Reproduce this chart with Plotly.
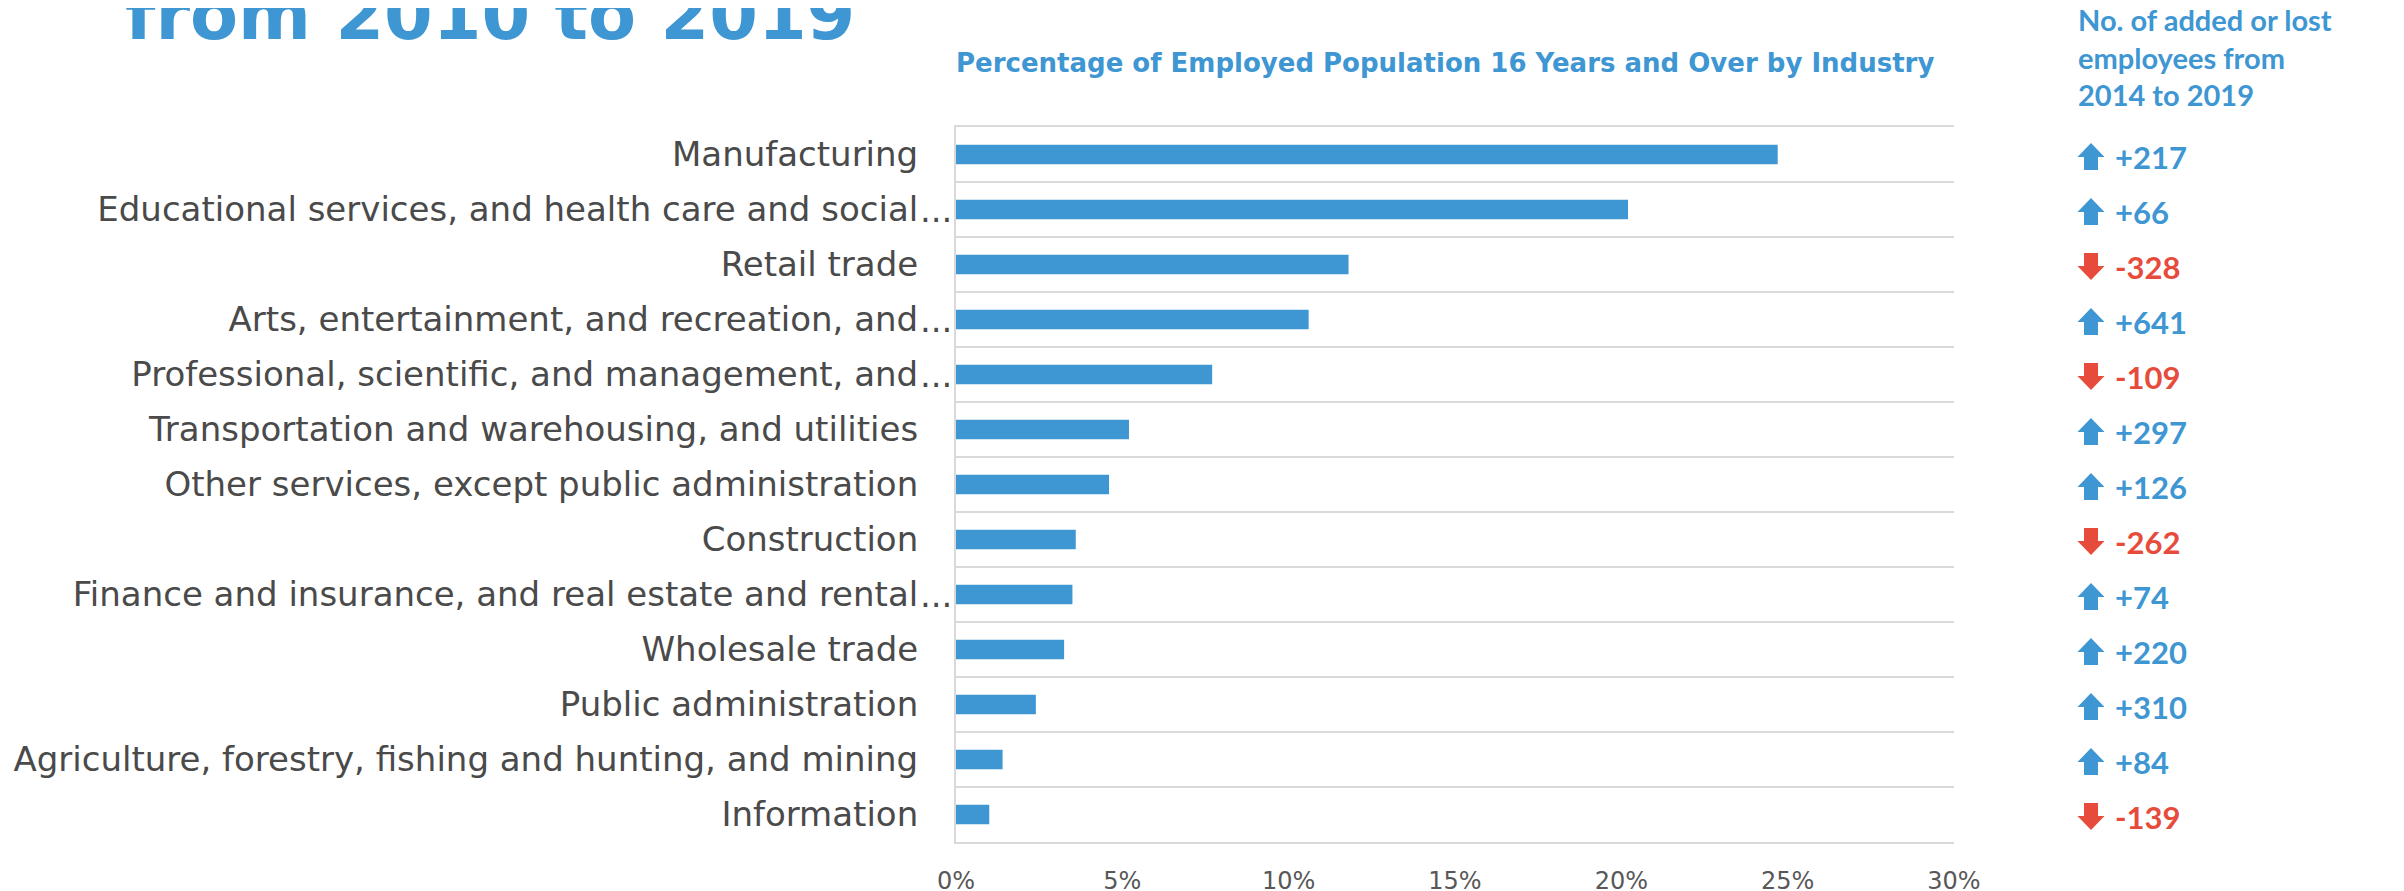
import plotly.graph_objects as go

categories = [
    "Manufacturing",
    "Educational services, and health care and social...",
    "Retail trade",
    "Arts, entertainment, and recreation, and...",
    "Professional, scientific, and management, and...",
    "Transportation and warehousing, and utilities",
    "Other services, except public administration",
    "Construction",
    "Finance and insurance, and real estate and rental...",
    "Wholesale trade",
    "Public administration",
    "Agriculture, forestry, fishing and hunting, and mining",
    "Information",
]
pct_employed = [24.7, 20.2, 11.8, 10.6, 7.7, 5.2, 4.6, 3.6, 3.5, 3.25, 2.4, 1.4, 1.0]
change_2014_2019 = [217, 66, -328, 641, -109, 297, 126, -262, 74, 220, 310, 84, -139]
x_ticks = [0, 5, 10, 15, 20, 25, 30]

title_text = "from 2010 to 2019"
subtitle_text = "Percentage of Employed Population 16 Years and Over by Industry"
side_header = "No. of added or lost<br>employees from<br>2014 to 2019"

BLUE = "#3E96D2"
RED = "#E64B3C"
GRAY_TXT = "#4A4A4A"
TICK_TXT = "#585858"
GRID = "#D9D9D9"
FONT = "DejaVu Sans"

W, H = 2404, 891
# the page body adds an 8px offset; margins compensate for it
ML, MR, MT, MB = 948, 458, 119, 57

fig = go.Figure()
fig.add_trace(go.Bar(
    x=pct_employed, y=categories, orientation="h",
    marker=dict(color=BLUE, line=dict(width=0)),
    hoverinfo="x+y", showlegend=False,
))

stems = [c[:-3] if c.endswith("...") else c for c in categories]

fig.update_layout(
    template="none",
    width=W, height=H, autosize=False,
    margin=dict(l=ML, r=MR, t=MT, b=MB, pad=0),
    paper_bgcolor="white", plot_bgcolor="white",
    bargap=0.645, showlegend=False,
    font=dict(family=FONT),
    xaxis=dict(
        range=[0, 30], tickvals=x_ticks, ticktext=[f"{v}%" for v in x_ticks],
        showgrid=False, zeroline=False, automargin=False,
        showline=True, linecolor=GRID, linewidth=2, mirror=True,
        ticks="", tickfont=dict(family=FONT, size=24, color=TICK_TXT),
        ticklabelstandoff=16, fixedrange=True,
    ),
    yaxis=dict(
        type="category", autorange="reversed", automargin=False,
        tickvals=categories, ticktext=stems,
        tickson="boundaries", showgrid=True, gridcolor=GRID, gridwidth=2,
        showline=True, linecolor=GRID, linewidth=2,
        ticks="", tickfont=dict(family=FONT, size=34, color=GRAY_TXT),
        ticklabelstandoff=29, zeroline=False, fixedrange=True,
    ),
)

annotations = []
for c in categories:
    if c.endswith("..."):
        annotations.append(dict(
            x=0, xref="paper", y=c, yref="y", text="...", showarrow=False,
            xanchor="left", yanchor="middle", xshift=-38,
            font=dict(family=FONT, size=34, color=GRAY_TXT),
        ))

# change column: block arrows (pixel-sized shapes) + values
AX = 137      # arrow centre, px right of plot area
HW, SW, HH, SH = 13.5, 7, 14, 13   # head half-width, stem half-width, head height, stem height
shapes = []
for i, (c, v) in enumerate(zip(categories, change_2014_2019)):
    up = v >= 0
    col = BLUE if up else RED
    s = 1 if up else -1
    cy = -2
    pts = [
        (AX - HW, cy),
        (AX, cy + s * HH),
        (AX + HW, cy),
        (AX + SW, cy),
        (AX + SW, cy - s * SH),
        (AX - SW, cy - s * SH),
        (AX - SW, cy),
    ]
    off = (HH - SH) / 2.0 * s
    path = "M " + " L ".join(f"{px},{py - off}" for px, py in pts) + " Z"
    shapes.append(dict(
        type="path", xref="paper", yref="y",
        xsizemode="pixel", ysizemode="pixel", xanchor=1, yanchor=i,
        path=path, fillcolor=col, line=dict(width=0), layer="above",
    ))
    annotations.append(dict(
        x=1, xref="paper", y=c, yref="y", text=f"{v:+d}",
        showarrow=False, xanchor="left", yanchor="middle",
        xshift=159, yshift=-2,
        font=dict(family="Lato", size=31, color=col, weight="bold"),
    ))

annotations.append(dict(
    x=0, xref="paper", y=1, yref="paper", text=title_text, showarrow=False,
    xanchor="left", yanchor="bottom", xshift=-833, yshift=MT - 50,
    font=dict(family=FONT, size=70, color=BLUE, weight="bold"),
))
annotations.append(dict(
    x=0, xref="paper", y=1, yref="paper", text=subtitle_text, showarrow=False,
    xanchor="left", yanchor="middle", xshift=-2, yshift=MT - 55,
    font=dict(family=FONT, size=26, color=BLUE, weight="bold"),
))
annotations.append(dict(
    x=1, xref="paper", y=1, yref="paper", text=side_header, showarrow=False,
    xanchor="left", yanchor="top", align="left", xshift=122, yshift=MT + 8,
    font=dict(family="Lato", size=29, color=BLUE, weight="bold"),
))
fig.update_layout(annotations=annotations, shapes=shapes)

fig.write_html("out.html")
